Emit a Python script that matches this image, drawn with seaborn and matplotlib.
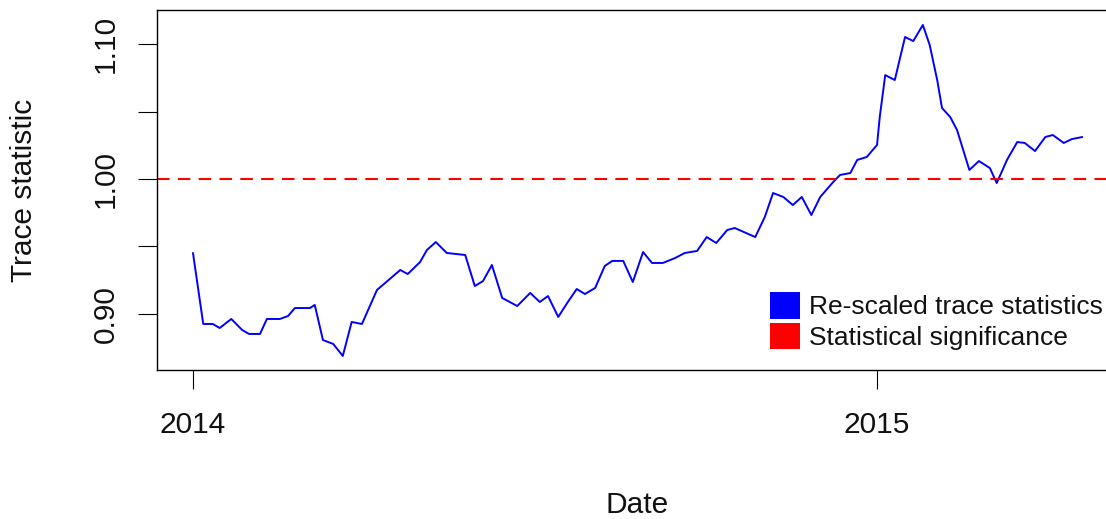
import numpy as np
import pandas as pd
import matplotlib
matplotlib.use("Agg")
import matplotlib.pyplot as plt
from matplotlib.patches import Patch
import seaborn as sns

# Re-scaled trace statistic over time (decimal years)
time = [
    2014.000, 2014.015, 2014.029, 2014.039, 2014.056, 2014.072, 2014.082, 2014.098,
    2014.108, 2014.127, 2014.139, 2014.149, 2014.171, 2014.178, 2014.190, 2014.205,
    2014.219, 2014.232, 2014.247, 2014.269, 2014.281, 2014.303, 2014.314, 2014.332,
    2014.342, 2014.355, 2014.371, 2014.398, 2014.412, 2014.424, 2014.437, 2014.452,
    2014.474, 2014.493, 2014.507, 2014.519, 2014.534, 2014.547, 2014.561, 2014.573,
    2014.588, 2014.602, 2014.613, 2014.629, 2014.643, 2014.658, 2014.671, 2014.687,
    2014.705, 2014.719, 2014.737, 2014.751, 2014.765, 2014.781, 2014.792, 2014.822,
    2014.836, 2014.848, 2014.863, 2014.877, 2014.890, 2014.904, 2014.917, 2014.936,
    2014.946, 2014.961, 2014.971, 2014.985, 2015.000, 2015.004, 2015.012, 2015.026,
    2015.034, 2015.041, 2015.053, 2015.067, 2015.077, 2015.088, 2015.095, 2015.107,
    2015.117, 2015.135, 2015.149, 2015.165, 2015.175, 2015.190, 2015.205, 2015.216,
    2015.231, 2015.246, 2015.257, 2015.273, 2015.285, 2015.300,
]
trace = [
    0.9452, 0.8926, 0.8926, 0.8896, 0.8963, 0.8881, 0.8852, 0.8852,
    0.8963, 0.8963, 0.8985, 0.9044, 0.9044, 0.9067, 0.8807, 0.8778,
    0.8689, 0.8941, 0.8926, 0.9178, 0.9230, 0.9326, 0.9296, 0.9385,
    0.9474, 0.9533, 0.9452, 0.9437, 0.9207, 0.9244, 0.9363, 0.9119,
    0.9059, 0.9156, 0.9089, 0.9133, 0.8978, 0.9081, 0.9185, 0.9148,
    0.9193, 0.9356, 0.9393, 0.9393, 0.9237, 0.9459, 0.9378, 0.9378,
    0.9415, 0.9452, 0.9467, 0.9570, 0.9526, 0.9622, 0.9637, 0.9570,
    0.9719, 0.9896, 0.9867, 0.9807, 0.9867, 0.9733, 0.9867, 0.9978,
    1.0030, 1.0044, 1.0141, 1.0163, 1.0252, 1.0459, 1.0770, 1.0733,
    1.0904, 1.1052, 1.1022, 1.1141, 1.0993, 1.0733, 1.0526, 1.0459,
    1.0363, 1.0067, 1.0133, 1.0081, 0.9970, 1.0141, 1.0274, 1.0267,
    1.0207, 1.0311, 1.0326, 1.0267, 1.0296, 1.0311,
]
significance_level = 1.00

x_tick_values = [2014, 2015]
x_tick_labels = ["2014", "2015"]
y_tick_values = [0.90, 0.95, 1.00, 1.05, 1.10]
y_tick_labels = ["0.90", "", "1.00", "", "1.10"]
legend_labels = ["Re-scaled trace statistics", "Statistical significance"]

sns.set_theme(style="ticks")
plt.rcParams["font.family"] = ["Liberation Sans", "DejaVu Sans"]

W, H = 1106, 519
fig = plt.figure(figsize=(W / 100, H / 100), dpi=100)
fig.patch.set_facecolor("white")
# plot region runs slightly past the right edge of the canvas
ax = fig.add_axes([157 / W, 149 / H, 961 / W, 360 / H])
ax.set_facecolor("white")

df = pd.DataFrame({"Date": time, "Trace": trace})
sns.lineplot(data=df, x="Date", y="Trace", color="#0000FF", lw=1.4,
             estimator=None, ax=ax)
ax.axhline(significance_level, color="#FF0000", lw=1.5, dashes=(6, 4))

ax.set_xlim(2013.9474, 2015.3523)
ax.set_ylim(0.8585, 1.1252)

ax.set_xticks(x_tick_values, x_tick_labels)
ax.set_yticks(y_tick_values, y_tick_labels)
ax.tick_params(axis="both", direction="out", length=13.7, width=0.8,
               color="black", labelcolor="#111111", labelsize=21.5)
ax.tick_params(axis="x", pad=16)
ax.tick_params(axis="y", pad=13)
for lab in ax.get_yticklabels():
    lab.set_rotation(90)
    lab.set_va("center")

for side in ["left", "right", "top", "bottom"]:
    ax.spines[side].set_visible(True)
    ax.spines[side].set_color("black")
    ax.spines[side].set_linewidth(1.0)

ax.set_xlabel("Date", fontsize=21.5, color="#111111", va="center")
ax.set_ylabel("Trace statistic", fontsize=21.5, color="#111111", va="center")
ax.xaxis.set_label_coords(0.5, -(505 - 370) / 360)
ax.yaxis.set_label_coords(-(157 - 24) / 961, 0.5)

handles = [Patch(facecolor="#0000FF", edgecolor="#0000FF", lw=0),
           Patch(facecolor="#FF0000", edgecolor="#FF0000", lw=0)]
fs = 19
fpx = fs * 100 / 72
ax.legend(handles, legend_labels, loc="upper left",
          bbox_to_anchor=(770 / W, 1 - 292 / H), bbox_transform=fig.transFigure,
          frameon=False, fontsize=fs, borderpad=0, borderaxespad=0,
          handlelength=30 / fpx, handleheight=1.19,
          handletextpad=9 / fpx, labelspacing=0.12,
          labelcolor="#111111")

fig.savefig("out.png", dpi=100, facecolor="white")
